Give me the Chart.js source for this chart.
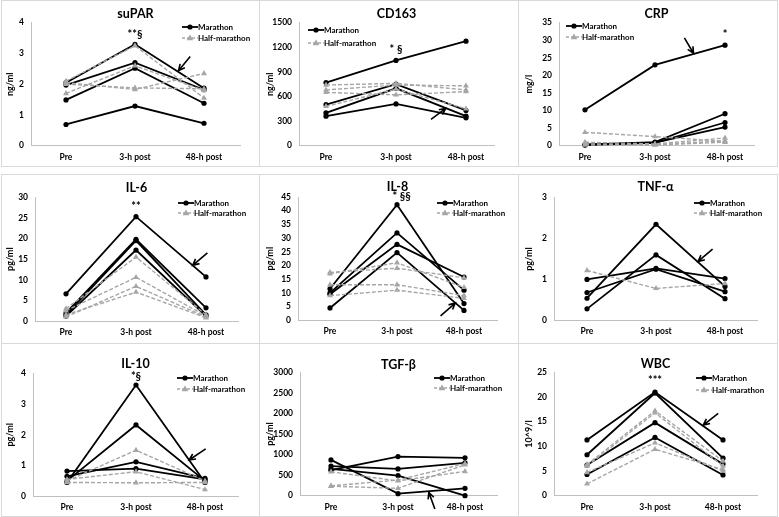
<!DOCTYPE html>
<html>
<head>
<meta charset="utf-8">
<script src="https://cdn.jsdelivr.net/npm/chart.js@4.4.0/dist/chart.umd.min.js"></script>
<style>
  body { margin: 0; background: #fff; width: 779px; height: 517px; position: relative; overflow: hidden; }
  .frame { position: absolute; border: 1px solid #d9d9d9; box-sizing: border-box; }
  canvas { position: absolute; }
</style>
</head>
<body>
<script>
// x-axis labels shared by every panel
var categories = ['Pre', '3-h post', '48-h post'];

// one row per runner: [Pre, 3-h post, 48-h post]
var suparMarathon = [[2.05, 3.30, 1.87], [1.97, 2.70, 1.82], [1.49, 2.52, 1.38], [0.69, 1.29, 0.73]];
var suparHalf     = [[1.70, 2.60, 1.80], [2.05, 1.83, 2.35], [2.00, 1.88, 1.85], [2.10, 3.25, 1.55]];

var cd163Marathon = [[770, 1040, 1275], [500, 750, 430], [400, 700, 360], [360, 510, 340]];
var cd163Half     = [[740, 760, 680], [680, 740, 730], [650, 620, 660], [480, 690, 450]];

var crpMarathon = [[10.2, 23.0, 28.6], [0.3, 1.0, 9.1], [0.2, 0.8, 6.6], [0.3, 0.9, 5.3]];
var crpHalf     = [[3.8, 2.6, 1.2], [1.0, 0.5, 2.2], [0.5, 0.3, 1.4], [0.2, 0.2, 1.0]];

var il6Marathon = [[6.6, 25.3, 10.7], [2.0, 19.8, 3.2], [1.5, 19.5, 1.5], [1.2, 17.2, 1.2]];
var il6Half     = [[3.0, 15.5, 1.5], [2.5, 10.6, 1.2], [1.0, 8.4, 1.0], [1.5, 7.0, 0.8]];

var il8Marathon = [[4.5, 24.7, 3.6], [11.5, 42.2, 6.1], [10.0, 31.9, 11.0], [9.5, 27.7, 15.8]];
var il8Half     = [[17.5, 19.0, 15.5], [17.0, 21.0, 12.0], [13.0, 13.0, 9.0], [9.0, 11.0, 8.0]];

var tnfMarathon = [[1.00, 1.27, 1.02], [0.68, 1.25, 0.70], [0.54, 2.35, 0.83], [0.28, 1.60, 0.53]];
var tnfHalf     = [[1.22, 0.78, 0.90]];

var il10Marathon = [[0.82, 0.90, 0.55], [0.45, 3.62, 0.45], [0.50, 2.32, 0.50], [0.65, 1.12, 0.58]];
var il10Half     = [[0.50, 1.50, 0.50], [0.55, 0.80, 0.22], [0.45, 0.44, 0.45]];

var tgfMarathon = [[870, 50, 180], [720, 650, 800], [620, 950, 920], [650, 490, 0]];
var tgfHalf     = [[230, 180, 750], [580, 360, 590], [240, 380, 780]];

var wbcMarathon = [[11.3, 21.0, 11.3], [8.3, 20.8, 7.6], [6.2, 14.8, 6.4], [4.3, 11.8, 4.2]];
var wbcHalf     = [[2.4, 9.4, 5.3], [4.7, 10.7, 5.0], [6.3, 17.2, 7.0], [6.0, 16.8, 6.0]];

// axis ranges
var yMax  = [4, 1500, 35, 30, 45, 3, 4, 3000, 25];
var yStep = [1, 300, 5, 5, 5, 1, 1, 500, 5];

var panels = [
  { title: 'suPAR', unit: 'ng/ml', m: suparMarathon, h: suparHalf, note: ['**§', 1, 3.62], arrow: [1.80, 2.90, 1.63, 2.44] },
  { title: 'CD163', unit: 'ng/ml', m: cd163Marathon, h: cd163Half, note: ['* §', 1, 1175], arrow: [1.50, 321, 1.71, 455] },
  { title: 'CRP', unit: 'mg/l', m: crpMarathon, h: crpHalf, note: ['*', 2, 31.7], arrow: [1.42, 30.7, 1.55, 26.3] },
  { title: 'IL-6', unit: 'pg/ml', m: il6Marathon, h: il6Half, note: ['**', 1, 27.8], arrow: [2.02, 16.5, 1.81, 13.5] },
  { title: 'IL-8', unit: 'pg/ml', m: il8Marathon, h: il8Half, note: ['* §§', 1.07, 45.2], arrow: [1.65, 1.6, 1.87, 6.3] },
  { title: 'TNF-α', unit: 'pg/ml', m: tnfMarathon, h: tnfHalf, note: null, arrow: [1.82, 1.74, 1.61, 1.44] },
  { title: 'IL-10', unit: 'pg/ml', m: il10Marathon, h: il10Half, note: ['*§', 1, 3.9], arrow: [2.01, 1.54, 1.77, 1.18] },
  { title: 'TGF-β', unit: 'pg/ml', m: tgfMarathon, h: tgfHalf, note: null, arrow: [1.55, -324, 1.46, 81] },
  { title: 'WBC', unit: '10^9/l', m: wbcMarathon, h: wbcHalf, note: ['***', 1, 23.3], arrow: [1.93, 16.7, 1.71, 14.3] }
];

// layout of each panel inside its canvas: y-axis x, Pre x, 48-h x, x-axis end, plot top, plot bottom, title y, legend x/y/gap
var geo = [
  [31, 66, 204, 240, 22.7, 145.7, 14, 182, 27, 11],
  [39, 66, 206, 234, 22.7, 145.7, 14, 48, 30, 13],
  [40, 66, 206, 235, 22.7, 145.7, 14, 47, 26, 11],
  [35, 66, 206, 238, 25.3, 149.0, 16, 178, 31, 10],
  [38, 70, 204, 237, 25.0, 148.3, 15, 177, 31, 10],
  [35, 68, 206, 238, 25.7, 148.3, 15, 175, 31, 10],
  [33, 67, 205, 238, 29.3, 152.3, 20, 177, 34, 11],
  [40, 71, 205, 237, 28.3, 151.7, 21, 174, 34, 10],
  [35, 68, 204, 238, 28.3, 151.7, 20, 177, 34, 12]
];

var colX = [0, 260, 519];
var rowY = [0, 172, 344];
var W = 260, H = 172;
var FONT = 'Lato, "Open Sans", sans-serif';
var GREY = '#a6a6a6';

// panel frames
[[1, 0, 259, 167], [259, 0, 260, 167], [518, 0, 260, 167],
 [1, 174, 259, 170], [259, 174, 260, 170], [518, 174, 260, 170],
 [1, 343, 259, 174], [259, 343, 260, 174], [518, 343, 260, 174]].forEach(function (f) {
  var d = document.createElement('div');
  d.className = 'frame';
  d.style.left = f[0] + 'px'; d.style.top = f[1] + 'px';
  d.style.width = f[2] + 'px'; d.style.height = f[3] + 'px';
  document.body.appendChild(d);
});

function drawMarker(ctx, type, x, y, color) {
  ctx.fillStyle = color;
  ctx.beginPath();
  if (type === 'circle') {
    ctx.arc(x, y, 2.6, 0, Math.PI * 2);
  } else {
    ctx.moveTo(x, y - 3.5); ctx.lineTo(x + 3.3, y + 2.2); ctx.lineTo(x - 3.3, y + 2.2); ctx.closePath();
  }
  ctx.fill();
}

var deco = {
  id: 'deco',
  afterDatasetsDraw: function (chart, args, o) {
    var ctx = chart.ctx, xs = chart.scales.x, ys = chart.scales.y, a = chart.chartArea;
    var p = o.panel, g = o.geo;
    ctx.save();
    ctx.fillStyle = '#000';
    ctx.textBaseline = 'middle';

    // title
    ctx.font = 'bold 12.5px ' + FONT;
    ctx.textAlign = 'center';
    ctx.fillText(p.title, (a.left + a.right) / 2, g[6]);

    // y-axis title
    ctx.save();
    ctx.translate(10, (a.top + a.bottom) / 2);
    ctx.rotate(-Math.PI / 2);
    ctx.font = 'bold 9px ' + FONT;
    ctx.fillText(p.unit, 0, 0);
    ctx.restore();

    // significance marks
    if (p.note) {
      ctx.font = 'bold 11px ' + FONT;
      ctx.fillText(p.note[0], xs.getPixelForValue(p.note[1]), ys.getPixelForValue(p.note[2]));
    }

    // arrow
    var t = p.arrow;
    var x1 = xs.getPixelForValue(t[0]), y1 = ys.getPixelForValue(t[1]);
    var x2 = xs.getPixelForValue(t[2]), y2 = ys.getPixelForValue(t[3]);
    var ang = Math.atan2(y2 - y1, x2 - x1);
    ctx.strokeStyle = '#000';
    ctx.lineWidth = 1.6;
    ctx.beginPath();
    ctx.moveTo(x1, y1); ctx.lineTo(x2, y2);
    ctx.moveTo(x2 - 7 * Math.cos(ang - 0.45), y2 - 7 * Math.sin(ang - 0.45));
    ctx.lineTo(x2, y2);
    ctx.lineTo(x2 - 7 * Math.cos(ang + 0.45), y2 - 7 * Math.sin(ang + 0.45));
    ctx.stroke();

    // legend
    var lx = g[7], ly = g[8];
    ctx.font = 'bold 8px ' + FONT;
    ctx.textAlign = 'left';
    ctx.lineWidth = 1.8;
    ctx.setLineDash([]);
    ctx.beginPath(); ctx.moveTo(lx, ly); ctx.lineTo(lx + 16, ly); ctx.stroke();
    drawMarker(ctx, 'circle', lx + 8, ly, '#000');
    ctx.fillStyle = '#000';
    ctx.fillText('Marathon', lx + 16, ly);
    var hy = ly + g[9];
    ctx.strokeStyle = GREY;
    ctx.lineWidth = 1.3;
    ctx.setLineDash([3, 2]);
    ctx.beginPath(); ctx.moveTo(lx, hy); ctx.lineTo(lx + 16, hy); ctx.stroke();
    ctx.setLineDash([]);
    drawMarker(ctx, 'triangle', lx + 8, hy, GREY);
    ctx.fillStyle = '#000';
    ctx.fillText('Half-marathon', lx + 16, hy);
    ctx.restore();
  }
};

panels.forEach(function (p, i) {
  var g = geo[i];
  var band = (g[2] - g[1]) / 2;
  var xmin = -(g[1] - g[0]) / band;
  var xmax = 2 + (g[3] - g[2]) / band;

  var canvas = document.createElement('canvas');
  canvas.width = W; canvas.height = H;
  canvas.style.left = colX[i % 3] + 'px';
  canvas.style.top = rowY[Math.floor(i / 3)] + 'px';
  document.body.appendChild(canvas);

  var datasets = [];
  p.h.forEach(function (vals) {
    datasets.push({
      data: vals.map(function (v, k) { return { x: k, y: v }; }),
      borderColor: GREY, backgroundColor: GREY, borderWidth: 1.4, borderDash: [4, 2],
      pointStyle: 'triangle', pointRadius: 3.4, pointBorderWidth: 0, pointBackgroundColor: GREY,
      tension: 0, clip: 8
    });
  });
  p.m.forEach(function (vals) {
    datasets.push({
      data: vals.map(function (v, k) { return { x: k, y: v }; }),
      borderColor: '#000', backgroundColor: '#000', borderWidth: 1.8,
      pointStyle: 'circle', pointRadius: 2.6, pointBorderWidth: 0, pointBackgroundColor: '#000',
      tension: 0, clip: 8
    });
  });

  new Chart(canvas, {
    type: 'line',
    data: { datasets: datasets },
    options: {
      responsive: false,
      animation: false,
      events: [],
      layout: { padding: { top: g[4], right: W - g[3], bottom: 0, left: 0 } },
      plugins: { legend: { display: false }, title: { display: false }, tooltip: { enabled: false }, deco: { panel: p, geo: g } },
      scales: {
        x: {
          type: 'linear', min: xmin, max: xmax,
          grid: { display: false, drawTicks: false },
          border: { color: '#bfbfbf', width: 1 },
          afterBuildTicks: function (s) { s.ticks = [0, 1, 2].map(function (v) { return { value: v }; }); },
          afterFit: function (s) { s.height = H - g[5]; },
          ticks: {
            callback: function (v) { return categories[v]; },
            color: '#000', font: { family: FONT, size: 8.5, weight: 'bold' },
            padding: 6, maxRotation: 0, autoSkip: false
          }
        },
        y: {
          min: 0, max: yMax[i],
          grid: { display: false, drawTicks: false },
          border: { color: '#bfbfbf', width: 1 },
          afterFit: function (s) { s.width = g[0]; },
          ticks: {
            stepSize: yStep[i], color: '#000',
            callback: function (v) { return String(v); },
            font: { family: FONT, size: 8.5, weight: 'bold' }, padding: 7
          }
        }
      }
    },
    plugins: [deco]
  });
});
</script>
</body>
</html>
